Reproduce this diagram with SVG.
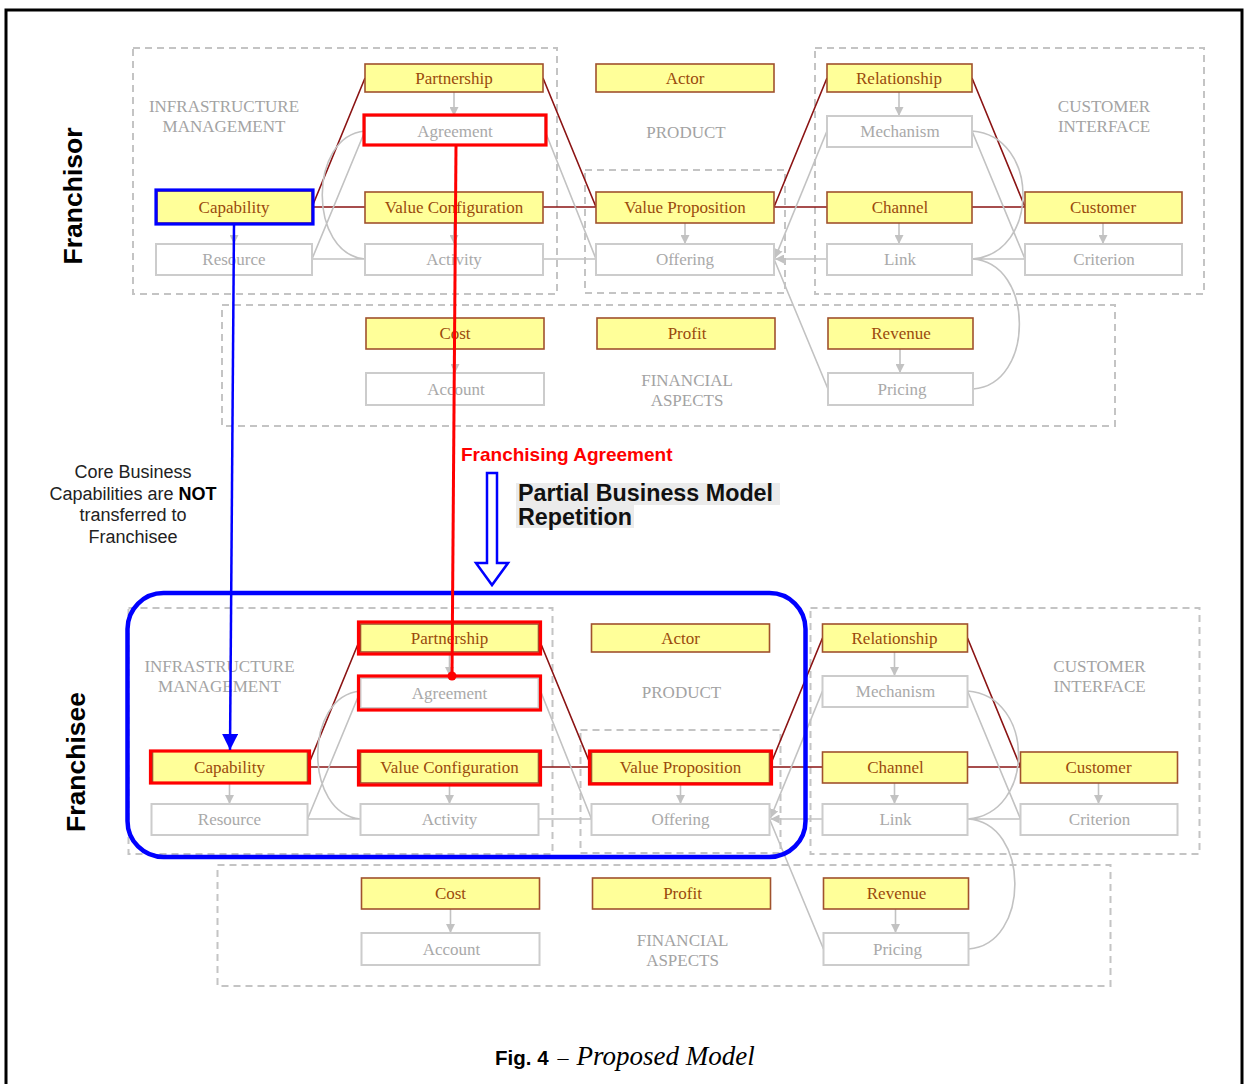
<svg xmlns="http://www.w3.org/2000/svg" width="1247" height="1084" viewBox="0 0 1247 1084">
<style>
.bg{fill:#ffffff}
.frame{fill:none;stroke:#000;stroke-width:3}
.dash{fill:none;stroke:#c4c4c4;stroke-width:2;stroke-dasharray:7,5}
.y rect{fill:#ffff99;stroke:#a0522d;stroke-width:1.6}
.y text{font-family:"Liberation Serif",serif;font-size:17px;fill:#9a4a0c;text-anchor:middle}
.g rect{fill:#ffffff;stroke:#cccccc;stroke-width:2}
.g text{font-family:"Liberation Serif",serif;font-size:17px;fill:#a9a9a9;text-anchor:middle}
.cat{font-family:"Liberation Serif",serif;font-size:17px;fill:#a3a3a3;text-anchor:middle}
.dr{fill:none;stroke:#8b1414;stroke-width:1.6}
.gl{fill:none;stroke:#c2c2c2;stroke-width:1.6}
.ga{fill:none;stroke:#c2c2c2;stroke-width:1.6;marker-end:url(#ag)}
rect.hr{fill:none;stroke:#ff0000;stroke-width:3.2}
rect.hb{fill:none;stroke:#0000ff;stroke-width:3.2}
.side{font-family:"Liberation Sans",Arial,sans-serif;font-size:26.5px;font-weight:bold;fill:#000;text-anchor:middle}
.note{font-family:"Liberation Sans",Arial,sans-serif;font-size:18px;fill:#222;text-anchor:middle}
</style>
<defs>
<marker id="ag" viewBox="0 0 10 10" refX="10" refY="5" markerWidth="9" markerHeight="9" markerUnits="userSpaceOnUse" orient="auto"><path d="M0,0 L10,5 L0,10 z" fill="#c2c2c2"/></marker>
<marker id="ab" viewBox="0 0 10 10" refX="10" refY="5" markerWidth="16" markerHeight="16" markerUnits="userSpaceOnUse" orient="auto"><path d="M0,0 L10,5 L0,10 z" fill="#0000ff"/></marker>
</defs>
<rect class="bg" x="0" y="0" width="1247" height="1084"/>
<rect class="frame" x="6" y="10" width="1236" height="1100"/>

<!-- ================= FRANCHISOR ================= -->
<g id="franchisor">
  <g id="fr-areas">
    <rect class="dash" x="133" y="48" width="424" height="246"/>
    <rect class="dash" x="585" y="170" width="200" height="123"/>
    <rect class="dash" x="815" y="48" width="389" height="246"/>
    <rect class="dash" x="222" y="305" width="893" height="121"/>
    <text class="cat" x="224" y="112">INFRASTRUCTURE</text>
    <text class="cat" x="224" y="132">MANAGEMENT</text>
    <text class="cat" x="686" y="138">PRODUCT</text>
    <text class="cat" x="1104" y="112">CUSTOMER</text>
    <text class="cat" x="1104" y="132">INTERFACE</text>
    <text class="cat" x="687" y="386">FINANCIAL</text>
    <text class="cat" x="687" y="406">ASPECTS</text>
  </g>
  <g id="fr-connectors">
    <path class="dr" d="M312,207 L365,78 M312,207 H365 M543,207 H596 M543,78 L596,207 M774,207 L827,78 M774,207 H827 M972,207 H1025 M972,78 L1025,207"/>
    <path class="ga" d="M454,92 V116"/>
    <path class="ga" d="M454,223 V244"/>
    <path class="ga" d="M234,223 V244"/>
    <path class="ga" d="M685,223 V244"/>
    <path class="ga" d="M899,92 V116"/>
    <path class="ga" d="M899,223 V244"/>
    <path class="ga" d="M1103,223 V244"/>
    <path class="ga" d="M455,349 V373"/>
    <path class="ga" d="M900,349 V373"/>
    <path class="gl" d="M312,259 H365 M312,259 L365,131 M365,131 C308,136 308,254 365,259 M545,131 L596,259 M543,259 H596 M774,259 L828,389 M972,131 L1025,259 M972,131 C1040,136 1040,254 972,259 M972,259 H1025 M972,259 C1035,262 1035,385 973,389"/>
    <path class="ga" d="M827,131 L775,258"/>
    <path class="ga" d="M827,259 H775"/>
  </g>
  <g id="fr-partnership" class="y"><rect x="365" y="64" width="178" height="28"/><text x="454" y="84">Partnership</text></g>
  <g id="fr-agreement" class="g"><rect x="365" y="116" width="180" height="29"/><text x="455" y="137">Agreement</text></g>
  <g id="fr-valueconfiguration" class="y"><rect x="365" y="192" width="178" height="31"/><text x="454" y="213">Value Configuration</text></g>
  <g id="fr-activity" class="g"><rect x="365" y="244" width="178" height="31"/><text x="454" y="265">Activity</text></g>
  <g id="fr-capability" class="y"><rect x="157" y="191" width="155" height="32"/><text x="234" y="213">Capability</text></g>
  <g id="fr-resource" class="g"><rect x="156" y="244" width="156" height="31"/><text x="234" y="265">Resource</text></g>
  <g id="fr-actor" class="y"><rect x="596" y="64" width="178" height="28"/><text x="685" y="84">Actor</text></g>
  <g id="fr-valueproposition" class="y"><rect x="596" y="192" width="178" height="31"/><text x="685" y="213">Value Proposition</text></g>
  <g id="fr-offering" class="g"><rect x="596" y="244" width="178" height="31"/><text x="685" y="265">Offering</text></g>
  <g id="fr-relationship" class="y"><rect x="827" y="64" width="145" height="28"/><text x="899" y="84">Relationship</text></g>
  <g id="fr-mechanism" class="g"><rect x="827" y="116" width="145" height="31"/><text x="900" y="137">Mechanism</text></g>
  <g id="fr-channel" class="y"><rect x="827" y="192" width="145" height="31"/><text x="900" y="213">Channel</text></g>
  <g id="fr-link" class="g"><rect x="827" y="244" width="145" height="31"/><text x="900" y="265">Link</text></g>
  <g id="fr-customer" class="y"><rect x="1025" y="192" width="157" height="31"/><text x="1103" y="213">Customer</text></g>
  <g id="fr-criterion" class="g"><rect x="1025" y="244" width="157" height="31"/><text x="1104" y="265">Criterion</text></g>
  <g id="fr-cost" class="y"><rect x="366" y="318" width="178" height="31"/><text x="455" y="339">Cost</text></g>
  <g id="fr-account" class="g"><rect x="366" y="373" width="178" height="32"/><text x="456" y="395">Account</text></g>
  <g id="fr-profit" class="y"><rect x="597" y="318" width="178" height="31"/><text x="687" y="339">Profit</text></g>
  <g id="fr-revenue" class="y"><rect x="828" y="318" width="145" height="31"/><text x="901" y="339">Revenue</text></g>
  <g id="fr-pricing" class="g"><rect x="828" y="373" width="145" height="32"/><text x="902" y="395">Pricing</text></g>
  <rect class="hr" x="364" y="115" width="182" height="30"/>
  <rect class="hb" x="156" y="190" width="157" height="34"/>
</g>

<!-- ================= FRANCHISEE ================= -->
<g id="franchisee" transform="translate(-4.5,560)">
  <g id="fe-areas">
    <rect class="dash" x="133" y="48" width="424" height="246"/>
    <rect class="dash" x="585" y="170" width="200" height="123"/>
    <rect class="dash" x="815" y="48" width="389" height="246"/>
    <rect class="dash" x="222" y="305" width="893" height="121"/>
    <text class="cat" x="224" y="112">INFRASTRUCTURE</text>
    <text class="cat" x="224" y="132">MANAGEMENT</text>
    <text class="cat" x="686" y="138">PRODUCT</text>
    <text class="cat" x="1104" y="112">CUSTOMER</text>
    <text class="cat" x="1104" y="132">INTERFACE</text>
    <text class="cat" x="687" y="386">FINANCIAL</text>
    <text class="cat" x="687" y="406">ASPECTS</text>
  </g>
  <g id="fe-connectors">
    <path class="dr" d="M312,207 L365,78 M312,207 H365 M543,207 H596 M543,78 L596,207 M774,207 L827,78 M774,207 H827 M972,207 H1025 M972,78 L1025,207"/>
    <path class="ga" d="M454,92 V116"/>
    <path class="ga" d="M454,223 V244"/>
    <path class="ga" d="M234,223 V244"/>
    <path class="ga" d="M685,223 V244"/>
    <path class="ga" d="M899,92 V116"/>
    <path class="ga" d="M899,223 V244"/>
    <path class="ga" d="M1103,223 V244"/>
    <path class="ga" d="M455,349 V373"/>
    <path class="ga" d="M900,349 V373"/>
    <path class="gl" d="M312,259 H365 M312,259 L365,131 M365,131 C308,136 308,254 365,259 M545,131 L596,259 M543,259 H596 M774,259 L828,389 M972,131 L1025,259 M972,131 C1040,136 1040,254 972,259 M972,259 H1025 M972,259 C1035,262 1035,385 973,389"/>
    <path class="ga" d="M827,131 L775,258"/>
    <path class="ga" d="M827,259 H775"/>
  </g>
  <g id="fe-partnership" class="y"><rect x="365" y="64" width="178" height="28"/><text x="454" y="84">Partnership</text></g>
  <g id="fe-agreement" class="g"><rect x="365" y="118" width="178" height="30"/><text x="454" y="139">Agreement</text></g>
  <g id="fe-valueconfiguration" class="y"><rect x="365" y="192" width="178" height="31"/><text x="454" y="213">Value Configuration</text></g>
  <g id="fe-activity" class="g"><rect x="365" y="244" width="178" height="31"/><text x="454" y="265">Activity</text></g>
  <g id="fe-capability" class="y"><rect x="157" y="191" width="155" height="32"/><text x="234" y="213">Capability</text></g>
  <g id="fe-resource" class="g"><rect x="156" y="244" width="156" height="31"/><text x="234" y="265">Resource</text></g>
  <g id="fe-actor" class="y"><rect x="596" y="64" width="178" height="28"/><text x="685" y="84">Actor</text></g>
  <g id="fe-valueproposition" class="y"><rect x="596" y="192" width="178" height="31"/><text x="685" y="213">Value Proposition</text></g>
  <g id="fe-offering" class="g"><rect x="596" y="244" width="178" height="31"/><text x="685" y="265">Offering</text></g>
  <g id="fe-relationship" class="y"><rect x="827" y="64" width="145" height="28"/><text x="899" y="84">Relationship</text></g>
  <g id="fe-mechanism" class="g"><rect x="827" y="116" width="145" height="31"/><text x="900" y="137">Mechanism</text></g>
  <g id="fe-channel" class="y"><rect x="827" y="192" width="145" height="31"/><text x="900" y="213">Channel</text></g>
  <g id="fe-link" class="g"><rect x="827" y="244" width="145" height="31"/><text x="900" y="265">Link</text></g>
  <g id="fe-customer" class="y"><rect x="1025" y="192" width="157" height="31"/><text x="1103" y="213">Customer</text></g>
  <g id="fe-criterion" class="g"><rect x="1025" y="244" width="157" height="31"/><text x="1104" y="265">Criterion</text></g>
  <g id="fe-cost" class="y"><rect x="366" y="318" width="178" height="31"/><text x="455" y="339">Cost</text></g>
  <g id="fe-account" class="g"><rect x="366" y="373" width="178" height="32"/><text x="456" y="395">Account</text></g>
  <g id="fe-profit" class="y"><rect x="597" y="318" width="178" height="31"/><text x="687" y="339">Profit</text></g>
  <g id="fe-revenue" class="y"><rect x="828" y="318" width="145" height="31"/><text x="901" y="339">Revenue</text></g>
  <g id="fe-pricing" class="g"><rect x="828" y="373" width="145" height="32"/><text x="902" y="395">Pricing</text></g>
  <rect class="hr" x="363" y="62" width="182" height="32"/>
  <rect class="hr" x="363" y="116" width="182" height="34"/>
  <rect class="hr" x="155" y="191" width="159" height="32"/>
  <rect class="hr" x="363" y="191" width="182" height="34"/>
  <rect class="hr" x="594" y="191" width="182" height="33"/>
</g>

<!-- ================= Transfer annotations ================= -->
<g id="annotations">
  <rect x="127.5" y="593" width="678" height="264" rx="36" fill="none" stroke="#0000ff" stroke-width="4.5"/>
  <path d="M234,224 L230,750" fill="none" stroke="#0000ff" stroke-width="2.5" marker-end="url(#ab)"/>
  <path d="M456,145 L452,676" fill="none" stroke="#ff0000" stroke-width="3"/>
  <circle cx="452" cy="676" r="4.5" fill="#ff0000"/>
  <path d="M487,473 H497 V563 H508 L492,585 L476,563 H487 Z" fill="#ffffff" stroke="#0000ff" stroke-width="2.5" stroke-linejoin="miter"/>
  <text x="461" y="461" font-family="Liberation Sans,Arial,sans-serif" font-size="19" font-weight="bold" fill="#ff0000">Franchising Agreement</text>
  <rect x="516" y="483" width="264" height="22" fill="#ebebeb"/>
  <rect x="516" y="505" width="118" height="23" fill="#ebebeb"/>
  <text x="518" y="501" font-family="Liberation Sans,Arial,sans-serif" font-size="23.3" font-weight="bold" fill="#111">Partial Business Model</text>
  <text x="518" y="525" font-family="Liberation Sans,Arial,sans-serif" font-size="23.3" font-weight="bold" fill="#111">Repetition</text>
  <text class="note"><tspan x="133" y="478">Core Business</tspan><tspan x="133" y="500">Capabilities are <tspan font-weight="bold" fill="#000">NOT</tspan></tspan><tspan x="133" y="521">transferred to</tspan><tspan x="133" y="543">Franchisee</tspan></text>
  <text class="side" transform="translate(82,196) rotate(-90)">Franchisor</text>
  <text class="side" transform="translate(85,762) rotate(-90)">Franchisee</text>
</g>

<text x="495" y="1065" font-family="Liberation Sans,Arial,sans-serif" font-size="21" fill="#000"><tspan font-weight="bold" font-size="20.5">Fig. 4</tspan><tspan font-family="Liberation Serif,serif" font-size="22" dx="9">–</tspan><tspan font-family="Liberation Serif,serif" font-style="italic" font-size="27" dx="8">Proposed Model</tspan></text>
</svg>
